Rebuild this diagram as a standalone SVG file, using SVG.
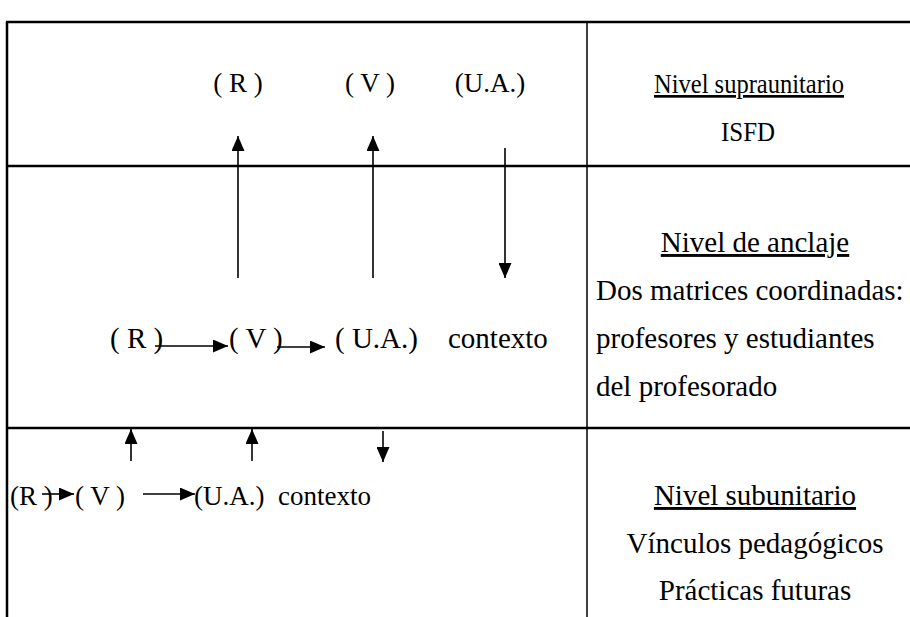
<svg xmlns="http://www.w3.org/2000/svg" width="910" height="617" viewBox="0 0 910 617" font-family="'Liberation Serif', 'Times New Roman', Times, serif" font-size="27">
<defs>
<style>
.c{text-anchor:middle}
.u{text-decoration:underline}
.big{font-size:29px}
.frame{stroke:#000;stroke-width:2.5;fill:none}
.thin{stroke:#000;stroke-width:1.5;fill:none}
.arr{stroke:#000;stroke-width:1.6;fill:none}
</style>
<marker id="ah" viewBox="0 0 15 13" refX="15" refY="6.5" markerWidth="15" markerHeight="13" markerUnits="userSpaceOnUse" orient="auto">
<path d="M0,0 L15,6.5 L0,13 Z" fill="#000"/>
</marker>
</defs>
<rect width="910" height="617" fill="#fff"/>
<g id="table">
<line class="frame" x1="6" y1="22" x2="910" y2="22"/>
<line class="frame" x1="7" y1="22" x2="7" y2="617"/>
<line class="thin" x1="587" y1="22" x2="587" y2="617"/>
<line class="frame" x1="6" y1="166" x2="910" y2="166"/>
<line class="frame" x1="6" y1="428" x2="910" y2="428"/>
</g>
<g id="top-left">
<text class="c" x="238" y="92">( R )</text>
<text class="c" x="370" y="92">( V )</text>
<text class="c" x="490" y="92">(U.A.)</text>
</g>
<g id="top-right">
<text class="c u" x="749" y="93" textLength="190" lengthAdjust="spacingAndGlyphs">Nivel supraunitario</text>
<text class="c" x="748" y="141" textLength="54" lengthAdjust="spacingAndGlyphs">ISFD</text>
</g>
<g id="mid-left" class="big">
<text x="110" y="348">( R )</text>
<text x="229" y="348">( V )</text>
<text x="335" y="348">( U.A.)</text>
<text x="448" y="348">contexto</text>
</g>
<g id="mid-right" class="big">
<text class="c u" x="755" y="252">Nivel de anclaje</text>
<text x="596" y="300">Dos matrices coordinadas:</text>
<text x="596" y="348">profesores y estudiantes</text>
<text x="596" y="396">del profesorado</text>
</g>
<g id="bot-left">
<text x="10" y="505">(R )</text>
<text x="75" y="505">( V )</text>
<text x="194" y="505">(U.A.)</text>
<text x="278" y="505">contexto</text>
</g>
<g id="bot-right" class="big">
<text class="c u" x="755" y="505">Nivel subunitario</text>
<text class="c" x="755" y="553">Vínculos pedagógicos</text>
<text class="c" x="755" y="600">Prácticas futuras</text>
</g>
<g id="connectors">
<line class="arr" x1="238" y1="278" x2="238" y2="136" marker-end="url(#ah)"/>
<line class="arr" x1="373" y1="278" x2="373" y2="136" marker-end="url(#ah)"/>
<line class="arr" x1="505" y1="148" x2="505" y2="278" marker-end="url(#ah)"/>
<line class="arr" x1="155" y1="346" x2="228" y2="346" marker-end="url(#ah)"/>
<line class="arr" x1="277" y1="347" x2="325" y2="347" marker-end="url(#ah)"/>
<line class="arr" x1="131" y1="461" x2="131" y2="429" marker-end="url(#ah)"/>
<line class="arr" x1="252" y1="461" x2="252" y2="429" marker-end="url(#ah)"/>
<line class="arr" x1="383" y1="431" x2="383" y2="462" marker-end="url(#ah)"/>
<line class="arr" x1="42" y1="494" x2="74" y2="494" marker-end="url(#ah)"/>
<line class="arr" x1="143" y1="494" x2="195" y2="494" marker-end="url(#ah)"/>
</g>
</svg>
